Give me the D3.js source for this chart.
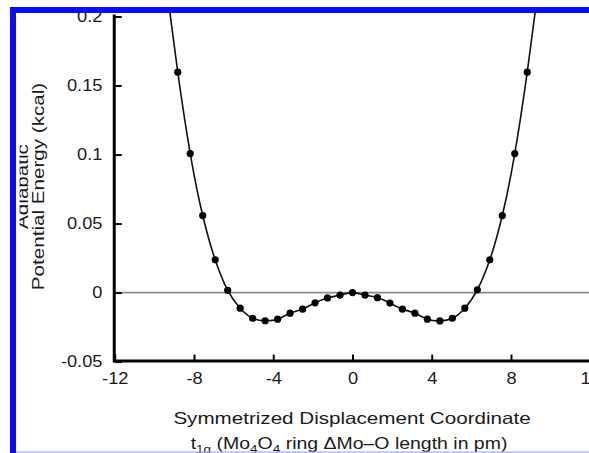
<!DOCTYPE html>
<html>
<head>
<meta charset="utf-8">
<script src="https://cdn.jsdelivr.net/npm/d3@7"></script>
<style>
  html, body { margin: 0; padding: 0; background: #fff; }
  svg text { font-family: "Liberation Sans", Arial, Helvetica, sans-serif; fill: #1a1a1a; }
</style>
</head>
<body>
<div id="chart"></div>
<script>
// DATA
const displacement = [-8.82, -8.19, -7.56, -6.93, -6.30, -5.67, -5.04, -4.41, -3.78, -3.15, -2.52, -1.89, -1.26, -0.63,
  0, 0.63, 1.26, 1.89, 2.52, 3.15, 3.78, 4.41, 5.04, 5.67, 6.30, 6.93, 7.56, 8.19, 8.82]
const energy = [0.1597, 0.1007, 0.0558, 0.0237, 0.0016, -0.0113, -0.0186, -0.0204, -0.0193, -0.0149, -0.0120, -0.0074, -0.0039, -0.0018,
  0, -0.0018, -0.0037, -0.0076, -0.0120, -0.0149, -0.0193, -0.0205, -0.0186, -0.0113, 0.0020, 0.0237, 0.0558, 0.1007, 0.1597]
// fitted curve carries on past the last points and leaves through the top
const fitEndX = [-9.3, 9.3]
const fitEndY = [0.212, 0.212]

const xTicks = [-12, -8, -4, 0, 4, 8, 12]
const xTickLabels = ["-12", "-8", "-4", "0", "4", "8", "12"]
const yTicks = [-0.05, 0, 0.05, 0.1, 0.15, 0.2]
const yTickLabels = ["-0.05", "0", "0.05", "0.1", "0.15", "0.2"]

const width = 589, height = 453

const svg = d3.select("#chart")
  .append("svg")
    .attr("width", width)
    .attr("height", height)

svg.append("rect").attr("width", width).attr("height", height).attr("fill", "#fff")

// SCALES
const xScale = d3.scaleLinear().domain([-12, 12]).range([114.75, 590.25])
const yScale = d3.scaleLinear().domain([-0.05, 0.2]).range([361.6, 16.5])

// clip for the curve
svg.append("clipPath").attr("id", "plotclip")
  .append("rect")
    .attr("x", 114).attr("y", 13)
    .attr("width", width - 114).attr("height", 362 - 13)

// ZERO LINE
svg.append("line")
  .attr("x1", xScale(-12)).attr("x2", xScale(12))
  .attr("y1", yScale(0)).attr("y2", yScale(0))
  .attr("stroke", "#8c8c8c")
  .attr("stroke-width", 1.6)

// AXES (ticks point inward)
const xAxis = d3.axisBottom(xScale)
  .tickValues(xTicks)
  .tickFormat((d, i) => xTickLabels[i])
  .tickSizeInner(-7).tickSizeOuter(0).tickPadding(11)

const yAxis = d3.axisLeft(yScale)
  .tickValues(yTicks)
  .tickFormat((d, i) => yTickLabels[i])
  .tickSizeInner(-7).tickSizeOuter(0).tickPadding(12)

const gx = svg.append("g")
  .attr("transform", `translate(0,${yScale(-0.05)})`)
  .call(xAxis)
gx.select(".domain").remove()
gx.selectAll(".tick line").attr("stroke", "#000").attr("stroke-width", 2)
gx.selectAll(".tick text")
  .attr("font-size", 16).attr("fill", "#1a1a1a")
  .attr("transform", "scale(1.14,1)")

const gy = svg.append("g")
  .attr("transform", `translate(${xScale(-12)},0)`)
  .call(yAxis)
gy.select(".domain").remove()
gy.selectAll(".tick line").attr("stroke", "#000").attr("stroke-width", 2)
gy.selectAll(".tick text")
  .attr("font-size", 16).attr("fill", "#1a1a1a")
  .attr("x", -12.3 / 1.14)
  .attr("transform", "scale(1.14,1)")

// axis lines
svg.append("path")
  .attr("d", `M${xScale(-12) - 0.5},${yScale(0.2) - 0.5}V${yScale(-0.05) - 0.6}H${width}`)
  .attr("fill", "none")
  .attr("stroke", "#000")
  .attr("stroke-width", 3)
  .attr("stroke-linecap", "square")

// CURVE
const curvePts = [[fitEndX[0], fitEndY[0]]]
  .concat(displacement.map((d, i) => [d, energy[i]]))
  .concat([[fitEndX[1], fitEndY[1]]])

const line = d3.line()
  .x(d => xScale(d[0]))
  .y(d => yScale(d[1]))
  .curve(d3.curveNatural)

svg.append("path")
  .datum(curvePts)
  .attr("clip-path", "url(#plotclip)")
  .attr("d", line)
  .attr("fill", "none")
  .attr("stroke", "#111")
  .attr("stroke-width", 1.6)

// POINTS
svg.append("g")
  .selectAll("circle")
  .data(displacement)
  .join("circle")
    .attr("cx", d => xScale(d))
    .attr("cy", (d, i) => yScale(energy[i]))
    .attr("r", 3.6)
    .attr("fill", "#000")

// X TITLE
const xt = svg.append("g").attr("font-size", 16.5)
xt.append("text")
  .attr("transform", "translate(352,423.5) scale(1.25,1)")
  .attr("text-anchor", "middle")
  .text("Symmetrized Displacement Coordinate")
const xt2 = xt.append("text")
  .attr("transform", "translate(349,448.5) scale(1.18,1)")
  .attr("text-anchor", "middle")
xt2.append("tspan").text("t")
xt2.append("tspan").attr("font-size", 11.5).attr("dy", 4).text("1g")
xt2.append("tspan").attr("dy", -4).text(" (Mo")
xt2.append("tspan").attr("font-size", 11.5).attr("dy", 4).text("4")
xt2.append("tspan").attr("dy", -4).text("O")
xt2.append("tspan").attr("font-size", 11.5).attr("dy", 4).text("4")
xt2.append("tspan").attr("dy", -4).text(" ring \u0394Mo\u2013O length in pm)")

// Y TITLE
const yt = svg.append("g")
  .attr("transform", "translate(0,186.5) rotate(-90) scale(1.25,1)")
  .attr("font-size", 16.5)
yt.append("text").attr("x", 0).attr("y", 28).attr("text-anchor", "middle").text("Adiabatic")
yt.append("text").attr("x", 0).attr("y", 44.5).attr("text-anchor", "middle").text("Potential Energy (kcal)")

// BLUE FRAME (image crop border)
svg.append("rect").attr("x", 0).attr("y", 0).attr("width", 10).attr("height", height).attr("fill", "#fff")
svg.append("rect").attr("x", 0).attr("y", 0).attr("width", width).attr("height", 7).attr("fill", "#fff")
svg.append("rect").attr("x", 16).attr("y", 100).attr("width", 3.5).attr("height", 220).attr("fill", "#fff")
svg.append("rect").attr("x", 10).attr("y", 7).attr("width", 6).attr("height", height - 7).attr("fill", "#0b0bf8")
svg.append("rect").attr("x", 10).attr("y", 7).attr("width", width - 10).attr("height", 6).attr("fill", "#0b0bf8")
svg.append("rect").attr("x", 16).attr("y", 451.5).attr("width", width - 16).attr("height", 1.2).attr("fill", "#a4a4ff")
</script>
</body>
</html>
